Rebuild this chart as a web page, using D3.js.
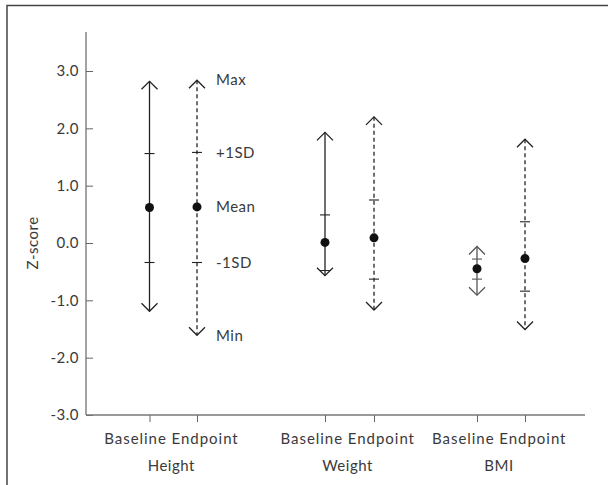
<!DOCTYPE html>
<html>
<head>
<meta charset="utf-8">
<script src="https://cdn.jsdelivr.net/npm/d3@7"></script>
<style>
  body { margin: 0; background: #fff; }
  text { font-family: "Lato", "Open Sans", sans-serif; fill: #3a3a3a; letter-spacing: 0.5px; }
</style>
</head>
<body>
<div id="chart"></div>
<script>
// data
var groups = ["Height", "Weight", "BMI"];
var timepoints = ["Baseline", "Endpoint"];
var maxVals  = [2.82, 2.84, 1.93, 2.20, -0.06, 1.81];
var sdUpVals = [1.56, 1.58, 0.49, 0.75, -0.28, 0.37];
var meanVals = [0.62, 0.63, 0.01, 0.09, -0.45, -0.27];
var sdLoVals = [-0.34, -0.34, -0.48, -0.63, -0.63, -0.84];
var minVals  = [-1.19, -1.61, -0.57, -1.17, -0.91, -1.51];
var yTicks = [3, 2, 1, 0, -1, -2, -3];
var annotations = ["Max", "+1SD", "Mean", "-1SD", "Min"];

var svgWidth = 608, svgHeight = 485;

var svg = d3.select("#chart").append("svg")
    .attr("width", svgWidth)
    .attr("height", svgHeight);

// frame (top and left edge only)
svg.append("path")
    .attr("d", "M7,485 V5.5 H608")
    .attr("fill", "none")
    .attr("stroke", "#444")
    .attr("stroke-width", 1.5);

var y = d3.scaleLinear().domain([-3, 3]).range([415, 71]);

// one slot per series, with a gap between groups
var series = [];
groups.forEach(function (g, gi) {
    timepoints.forEach(function (t, ti) {
        series.push({ group: g, time: t, i: gi * 2 + ti });
    });
});
var xPos = [149.5, 197, 325, 374, 477, 525];
var x = d3.scaleOrdinal().domain(d3.range(6)).range(xPos);

// axes
var fmt = function (d) { return d3.format(".1f")(d).replace("\u2212", "-"); };
var yAxis = d3.axisRight(y).tickValues(yTicks).tickSize(7).tickFormat(fmt);
var yg = svg.append("g").attr("transform", "translate(86,0)").call(yAxis);
yg.select(".domain").remove();
yg.selectAll(".tick line").attr("stroke", "#666");
yg.selectAll(".tick text").attr("x", -7).attr("text-anchor", "end")
    .style("font-size", "15px").style("font-family", null).attr("fill", "#3a3a3a");
svg.append("line").attr("x1", 86).attr("x2", 86).attr("y1", 32).attr("y2", y(-3))
    .attr("stroke", "#666").attr("stroke-width", 1.2);

var xAxis = d3.axisBottom(x).tickSize(7).tickFormat("");
var xg = svg.append("g").attr("transform", "translate(0," + y(-3) + ")").call(xAxis);
xg.select(".domain").remove();
xg.selectAll(".tick line").attr("stroke", "#666");
svg.append("line").attr("x1", 86).attr("x2", 585).attr("y1", y(-3)).attr("y2", y(-3))
    .attr("stroke", "#777").attr("stroke-width", 1.5);

// tick labels and group labels
groups.forEach(function (g, gi) {
    var cx = (x(gi * 2) + x(gi * 2 + 1)) / 2 - 2;
    svg.append("text").attr("x", cx).attr("y", 444)
        .attr("text-anchor", "middle").style("font-size", "15px")
        .attr("textLength", 134).attr("lengthAdjust", "spacing")
        .text(timepoints.join(" "));
    svg.append("text").attr("x", cx).attr("y", 471)
        .attr("text-anchor", "middle").style("font-size", "15px")
        .text(g);
});

svg.append("text")
    .attr("transform", "translate(38," + y(0) + ") rotate(-90)")
    .attr("text-anchor", "middle").style("font-size", "15px")
    .text("Z-score");

// range lines with arrowheads
var marks = svg.append("g");
series.forEach(function (s) {
    var i = s.i;
    var cx = x(i);
    var col = (i === 4) ? "#555" : "#222";
    var dash = s.time === "Endpoint" ? "4,3" : null;

    marks.append("line")
        .attr("x1", cx).attr("x2", cx)
        .attr("y1", y(maxVals[i])).attr("y2", y(minVals[i]))
        .attr("stroke", col).attr("stroke-width", 1.3)
        .attr("stroke-dasharray", dash);

    var top = y(maxVals[i]), bot = y(minVals[i]);
    marks.append("path")
        .attr("d", "M" + (cx - 8) + "," + (top + 8) + " L" + cx + "," + top + " L" + (cx + 8) + "," + (top + 8))
        .attr("fill", "none").attr("stroke", col).attr("stroke-width", 1.3);
    marks.append("path")
        .attr("d", "M" + (cx - 8) + "," + (bot - 8) + " L" + cx + "," + bot + " L" + (cx + 8) + "," + (bot - 8))
        .attr("fill", "none").attr("stroke", col).attr("stroke-width", 1.3);

    [sdUpVals[i], sdLoVals[i]].forEach(function (v) {
        marks.append("line")
            .attr("x1", cx - 5).attr("x2", cx + 5)
            .attr("y1", y(v)).attr("y2", y(v))
            .attr("stroke", col).attr("stroke-width", 1.1);
    });

    marks.append("circle")
        .attr("cx", cx).attr("cy", y(meanVals[i])).attr("r", 4.5)
        .attr("fill", "#111");
});

// annotation labels next to Height endpoint
var annVals = [maxVals[1], sdUpVals[1], meanVals[1], sdLoVals[1], minVals[1]];
annotations.forEach(function (a, k) {
    svg.append("text")
        .attr("x", 216).attr("y", y(annVals[k]))
        .attr("dy", "0.35em")
        .style("font-size", "15px")
        .text(a);
});
</script>
</body>
</html>
